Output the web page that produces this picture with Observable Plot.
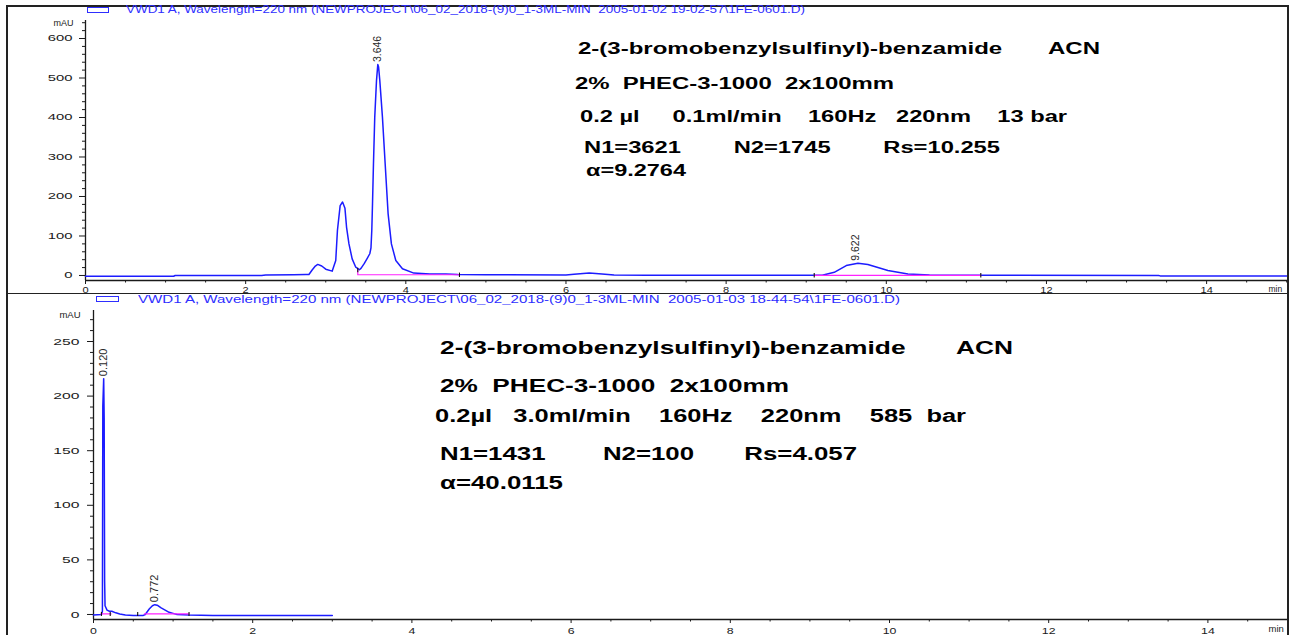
<!DOCTYPE html>
<html><head><meta charset="utf-8">
<script src="https://cdn.jsdelivr.net/npm/d3@7"></script>
<script src="https://cdn.jsdelivr.net/npm/@observablehq/plot@0.6"></script>
<style>
html,body{margin:0;padding:0;background:#fff;}
#root{position:relative;width:1298px;height:635px;overflow:hidden;font-family:"Liberation Sans",Arial,sans-serif;}
.panel{position:absolute;left:0;}
.txt{position:absolute;white-space:pre;transform-origin:0 50%;line-height:1;}
.ln{position:absolute;background:#222;}
.lg{position:absolute;border:1px solid #2e2eff;box-sizing:border-box;}
</style></head><body><div id="root"></div>
<script>
// ---------- DATA ----------
// Top chromatogram: retention time (min) and absorbance (mAU)
const topTime = [0, 0.5, 1.1, 1.12, 2.2, 2.25, 2.6, 2.75, 2.79, 2.83, 2.87, 2.9, 2.95, 3.0, 3.08, 3.125, 3.146, 3.18, 3.21, 3.24, 3.26, 3.29, 3.33, 3.375, 3.42, 3.44, 3.48, 3.52, 3.55, 3.565, 3.575, 3.584, 3.596, 3.612, 3.634, 3.65, 3.66, 3.675, 3.708, 3.742, 3.779, 3.82, 3.875, 3.958, 4.1, 4.3, 4.5, 4.65, 5.0, 6.0, 6.1, 6.29, 6.45, 6.6, 7.0, 9.2, 9.35, 9.5, 9.646, 9.77, 10.02, 10.27, 10.54, 11.2, 13.4, 13.42, 15.0];
const topAbs  = [-2, -2, -2, 0, 0, 1.5, 2, 2.5, 2.5, 14, 24, 28, 24, 16, 11, 38, 114, 177, 186, 170, 122, 80, 42, 21, 14.5, 18, 30, 44, 55, 70, 114, 181, 283, 401, 494, 534, 528, 494, 401, 283, 156, 80, 38, 17, 6, 4, 3.5, 2.5, 2, 1.5, 3, 6.5, 4, 1, 0.5, 0.5, 8, 25, 31, 28, 12.7, 4, 1, 0.5, 0, -1, -1];
// integration baselines (magenta)
const topBaseTime = [3.40, 3.40, 4.67, 9.1, 11.18];
const topBaseAbs  = [14, 1.8, 1.8, 0.5, 0.5];
const topBaseSeg  = [1, 1, 1, 2, 2];
// peak start/end event marks
const topEventTime = [3.40, 4.67, 9.1, 11.18];
const topEventAbs  = [14, 1.8, 0.5, 0.5];
// peak labels
const topPeakTime  = [3.646, 9.622];
const topPeakAbs   = [534, 31];
const topPeakLabel = ["3.646", "9.622"];

// Bottom chromatogram
const botTime = [0, 0.1, 0.112, 0.117, 0.128, 0.134, 0.14, 0.145, 0.17, 0.2, 0.23, 0.28, 0.33, 0.4, 0.5, 0.62, 0.65, 0.7, 0.74, 0.77, 0.8, 0.85, 0.9, 0.95, 1.0, 1.05, 1.2, 1.5, 2.0, 2.5, 3.0];
const botAbs  = [-0.5, 0, 3, 191, 216, 180, 30, 8, 4, 3, 3, 1.5, 0.5, -0.5, -1, -1, 0, 5, 8, 9, 8.5, 6, 4, 2, 1, 0, -0.5, -1, -1, -1, -1];
const botBaseTime = [0.094, 0.22, 0.64, 1.2];
const botBaseAbs  = [0.5, 0.5, 0.5, 0.5];
const botBaseSeg  = [1, 1, 2, 2];
const botEventTime = [0.1, 0.21, 0.555, 1.2];
const botEventAbs  = [0.5, 0.5, 0.5, 0.5];
const botPeakTime  = [0.12, 0.772];
const botPeakAbs   = [216, 9];
const botPeakLabel = ["0.120", "0.772"];

// axis ticks
const xMajor = [0, 2, 4, 6, 8, 10, 12, 14];
const topYMajor = [0, 100, 200, 300, 400, 500, 600];
const botYMajor = [0, 50, 100, 150, 200, 250];
const yUnit = ["mAU"];
const xUnit = ["min"];

// texts
const topHeader = "VWD1 A, Wavelength=220 nm (NEWPROJECT\\06_02_2018-(9)0_1-3ML-MIN  2005-01-02 19-02-57\\1FE-0601.D)";
const botHeader = "VWD1 A, Wavelength=220 nm (NEWPROJECT\\06_02_2018-(9)0_1-3ML-MIN  2005-01-03 18-44-54\\1FE-0601.D)";
const topNotes = [
  "2-(3-bromobenzylsulfinyl)-benzamide       ACN",
  "2%  PHEC-3-1000  2x100mm",
  "0.2 \u00b5l     0.1ml/min    160Hz   220nm    13 bar",
  "N1=3621        N2=1745        Rs=10.255",
  "\u03b1=9.2764"
];
const botNotes = [
  "2-(3-bromobenzylsulfinyl)-benzamide       ACN",
  "2%  PHEC-3-1000  2x100mm",
  "0.2\u00b5l   3.0ml/min    160Hz    220nm    585  bar",
  "N1=1431        N2=100       Rs=4.057",
  "\u03b1=40.0115"
];

// ---------- DRAWING ----------
const root = document.getElementById("root");
const zip = (ts, vs, extra) => ts.map((t, i) => Object.assign({t, v: vs[i]}, extra ? extra(i) : {}));
const vbar = {draw(ctx, size) { const h = Math.sqrt(size / Math.PI); ctx.moveTo(0, -h); ctx.lineTo(0, h); }};

function stretch(svg, sel, s) {
  svg.querySelectorAll(sel).forEach(t => {
    const tr = t.getAttribute("transform");
    if (tr && /^translate\(/.test(tr)) {
      t.setAttribute("transform", tr.replace(/^(translate\([^)]*\))/, `$1 scale(${s},1)`));
    } else {
      const x = +(t.getAttribute("x") || 0);
      t.setAttribute("transform", `${tr ? tr + " " : ""}translate(${x},0) scale(${s},1) translate(${-x},0)`);
    }
  });
}

function chart(o) {
  const xMinor = d3.range(0, 15.01, 0.5).filter(d => d % 2 !== 0);
  const yMinor = d3.range(0, o.yDomain[1], o.yMinorStep).filter(d => d % o.yMajorStep !== 0);
  const svg = Plot.plot({
    width: 1298, height: o.height,
    marginLeft: o.ml, marginRight: 11, marginTop: o.mt, marginBottom: o.mb,
    x: {domain: o.xDomain},
    y: {domain: o.yDomain},
    style: {background: "transparent", overflow: "visible", fontFamily: "Liberation Sans, Arial, sans-serif"},
    marks: [
      Plot.axisY({ticks: o.yMajor, tickSize: 6, tickPadding: o.yPad, fontSize: o.yfs, label: null, color: "#1a1a1a"}),
      Plot.axisY({ticks: yMinor, tickSize: 3, tickFormat: () => "", label: null, color: "#1a1a1a"}),
      Plot.axisX({ticks: xMajor, tickSize: 4, tickPadding: o.xPad, fontSize: o.xfs, label: null, color: "#1a1a1a"}),
      Plot.axisX({ticks: xMinor, tickSize: 2.5, tickFormat: () => "", label: null, color: "#1a1a1a"}),
      Plot.ruleX([o.xDomain[0]], {stroke: "#1a1a1a", strokeWidth: 1.3}),
      Plot.ruleY([o.yDomain[0]], {stroke: "#1a1a1a", strokeWidth: 1.3}),
      Plot.line(o.trace, {x: "t", y: "v", stroke: "#1c1cff", strokeWidth: 1.5}),
      Plot.line(o.base, {x: "t", y: "v", z: "seg", stroke: "#ff22ff", strokeWidth: 1.2}),
      Plot.dot(o.events, {x: "t", y: "v", r: o.evr, symbol: vbar, stroke: "#111", strokeWidth: 1.1, fill: "none"}),
      Plot.text(o.peaks, {x: "t", y: "v", text: "label", rotate: -90, textAnchor: "start", lineAnchor: "middle", dy: -2.5, fontSize: o.pfs, fill: "#2a2a2a", ariaLabel: "peak-label"}),
      Plot.text(yUnit, {frameAnchor: "top-left", textAnchor: "end", lineAnchor: "middle", dx: o.unitDx, dy: o.unitDy, fontSize: o.yfs, fill: "#1a1a1a", ariaLabel: "y-unit"}),
      Plot.text(xUnit, {frameAnchor: "bottom-right", textAnchor: "start", lineAnchor: "middle", dx: -19, dy: 9, fontSize: o.xfs, fill: "#1a1a1a", ariaLabel: "x-unit"})
    ]
  });
  stretch(svg, 'g[aria-label="y-axis tick label"] text', o.ys);
  stretch(svg, 'g[aria-label="x-axis tick label"] text', o.xs);
  stretch(svg, 'g[aria-label="peak-label"] text', 1.4);
  stretch(svg, 'g[aria-label="y-unit"] text', 1.5);
  stretch(svg, 'g[aria-label="x-unit"] text', 1.45);
  return svg;
}

function panel(svg, top) {
  const d = document.createElement("div");
  d.className = "panel"; d.style.top = top + "px";
  d.appendChild(svg); root.appendChild(d);
}

panel(chart({
  height: 293, ml: 85, mt: 20, mb: 13,
  xDomain: [0, 15.01], yDomain: [-12.7, 645.6],
  yMajor: topYMajor, yMajorStep: 100, yMinorStep: 20,
  yPad: 7, xPad: 2.5, yfs: 9, xfs: 8.5, ys: 1.65, xs: 1.3, pfs: 10.5, evr: 2.2,
  unitDx: -12, unitDy: 3,
  trace: zip(topTime, topAbs),
  base: zip(topBaseTime, topBaseAbs, i => ({seg: topBaseSeg[i]})),
  events: zip(topEventTime, topEventAbs),
  peaks: zip(topPeakTime, topPeakAbs, i => ({label: topPeakLabel[i]}))
}), 0);

panel(chart({
  height: 342, ml: 93, mt: 17, mb: 16,
  xDomain: [0, 15.0], yDomain: [-4.6, 278.4],
  yMajor: botYMajor, yMajorStep: 50, yMinorStep: 10,
  yPad: 8, xPad: 3.5, yfs: 9.5, xfs: 9.5, ys: 1.65, xs: 1.3, pfs: 11, evr: 2,
  unitDx: -13, unitDy: 4,
  trace: zip(botTime, botAbs),
  base: zip(botBaseTime, botBaseAbs, i => ({seg: botBaseSeg[i]})),
  events: zip(botEventTime, botEventAbs),
  peaks: zip(botPeakTime, botPeakAbs, i => ({label: botPeakLabel[i]}))
}), 293);

// frame lines
function line(l, t, w, h) { const d = document.createElement("div"); d.className = "ln"; Object.assign(d.style, {left: l + "px", top: t + "px", width: w + "px", height: h + "px"}); root.appendChild(d); }
line(6, 5, 1282, 1.5);
line(6, 5, 1.5, 630);
line(1287, 5, 1.5, 630);
line(6, 292.5, 1282, 1.5);

// legend boxes in headers
function box(l, t, w, h) { const d = document.createElement("div"); d.className = "lg"; Object.assign(d.style, {left: l + "px", top: t + "px", width: w + "px", height: h + "px"}); root.appendChild(d); }
box(87, 7, 22, 6);
box(96, 296, 23, 6);

function text(str, x0, x1, cy, fs, opts = {}) {
  const s = document.createElement("span");
  s.className = "txt"; s.textContent = str;
  Object.assign(s.style, {left: x0 + "px", top: (cy - fs * 0.5) + "px", fontSize: fs + "px", fontWeight: opts.bold ? "bold" : "normal", color: opts.color || "#000"});
  root.appendChild(s);
  const w = s.getBoundingClientRect().width;
  s.style.transform = `scaleX(${(x1 - x0) / w})`;
}
text(topHeader, 126, 805, 10, 10, {color: "#2e2eff"});
text(botHeader, 138, 900, 299, 10.5, {color: "#2e2eff"});

const topNoteBox = [[578, 1100, 49], [575, 894, 84], [580, 1067, 117], [584, 1000, 148], [586, 686, 171]];
topNotes.forEach((s, i) => text(s, topNoteBox[i][0], topNoteBox[i][1], topNoteBox[i][2], 16, {bold: true}));
const botNoteBox = [[440, 1013, 348], [440, 789, 386], [435, 966, 416], [440, 857, 454], [440, 563, 483]];
botNotes.forEach((s, i) => text(s, botNoteBox[i][0], botNoteBox[i][1], botNoteBox[i][2], 18, {bold: true}));
</script></body></html>
